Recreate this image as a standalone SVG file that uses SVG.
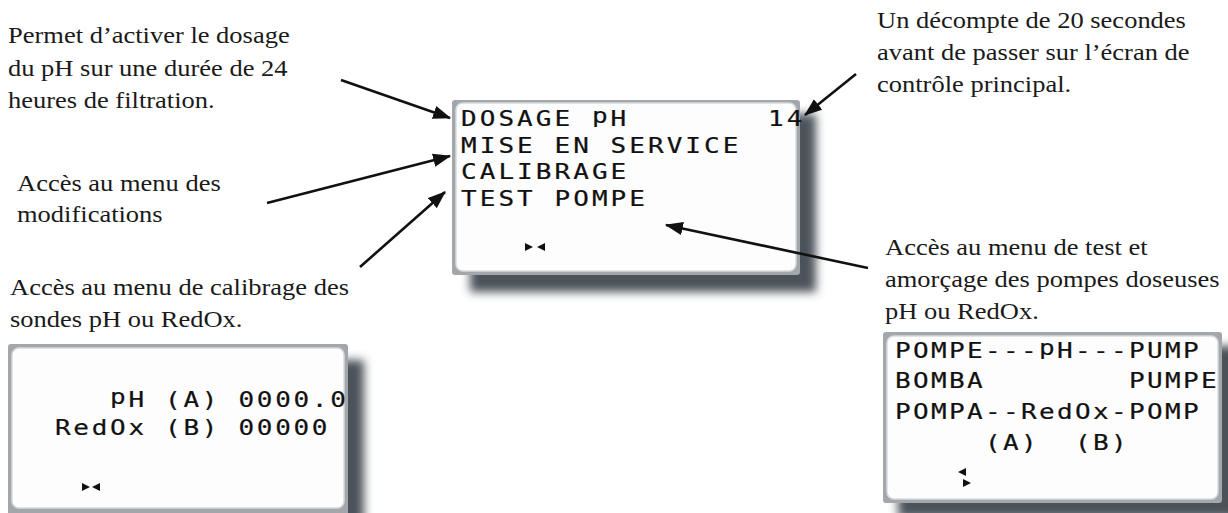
<svg xmlns="http://www.w3.org/2000/svg" width="1228" height="513" viewBox="0 0 1228 513">
<style>
.lbl{font-family:"Liberation Serif","Times New Roman",serif;font-size:26.5px;fill:#1a1a1a}
.lcd{font-family:"DejaVu Sans Mono",monospace;font-size:26px;fill:#111;stroke:#111;stroke-width:0.25;white-space:pre}
.frame{fill:#a3a7ab}
.screen{fill:#fdfdfd;stroke:#d8dadc;stroke-width:1.5}
.shadow{fill:#4b535a;filter:url(#blur)}
.conn line{stroke:#111;stroke-width:2.6;marker-end:url(#ah)}
.mk{fill:#111}
</style>
<defs>
<filter id="blur" x="-20%" y="-20%" width="140%" height="140%"><feGaussianBlur stdDeviation="5"/></filter>
<marker id="ah" viewBox="0 0 16 12" refX="15" refY="6" markerWidth="18" markerHeight="14" markerUnits="userSpaceOnUse" orient="auto"><path d="M0,0 L16,6 L0,12 Z" fill="#111"/></marker>
</defs>
<rect width="1228" height="513" fill="#fff"/>

<g id="main-screen">
<rect class="shadow" x="470" y="114" width="346" height="178"/>
<rect class="frame" x="452" y="100" width="348" height="175" rx="3"/>
<rect class="screen" x="456" y="103" width="340" height="168" rx="7"/>
<text class="lcd" xml:space="preserve" letter-spacing="3.05" transform="translate(461,126) scale(1,0.84)">DOSAGE <tspan dy="-4">p</tspan><tspan dy="4">H</tspan></text>
<text class="lcd" xml:space="preserve" letter-spacing="3.05" transform="translate(768,126) scale(1,0.84)">14</text>
<text class="lcd" xml:space="preserve" letter-spacing="3.05" transform="translate(461,152.5) scale(1,0.84)">MISE EN SERVICE</text>
<text class="lcd" xml:space="preserve" letter-spacing="3.05" transform="translate(461,179) scale(1,0.84)">CALIBRAGE</text>
<text class="lcd" xml:space="preserve" letter-spacing="3.05" transform="translate(461,205.5) scale(1,0.84)">TEST POMPE</text>
<polygon class="mk" points="525,243 533,247 525,251"/>
<polygon class="mk" points="545,243 537,247 545,251"/>
</g>

<g id="calib-screen">
<rect class="shadow" x="24" y="360" width="340" height="170"/>
<rect class="frame" x="8" y="344" width="340" height="175" rx="3"/>
<rect class="screen" x="12" y="348" width="332" height="160" rx="7"/>
<text class="lcd" xml:space="preserve" letter-spacing="2.7" transform="translate(55,407) scale(1,0.84)">   <tspan dy="-4">p</tspan><tspan dy="4">H (A) 0000.0</tspan></text>
<text class="lcd" xml:space="preserve" letter-spacing="2.7" transform="translate(55,435) scale(1,0.84)">RedOx (B) 00000</text>
<polygon class="mk" points="82,483 90,487 82,491"/>
<polygon class="mk" points="100,483 92,487 100,491"/>
</g>

<g id="pump-screen">
<rect class="shadow" x="898" y="346" width="340" height="172"/>
<rect class="frame" x="883" y="332" width="339" height="171" rx="3"/>
<rect class="screen" x="887" y="336" width="331" height="163" rx="7"/>
<text class="lcd" xml:space="preserve" letter-spacing="2.35" transform="translate(895,358) scale(1,0.84)">POMPE---<tspan dy="-4">p</tspan><tspan dy="4">H---PUMP</tspan></text>
<text class="lcd" xml:space="preserve" letter-spacing="2.35" transform="translate(895,388) scale(1,0.84)">BOMBA        PUMPE</text>
<text class="lcd" xml:space="preserve" letter-spacing="2.35" transform="translate(895,418.5) scale(1,0.84)">POMPA--RedOx-POMP</text>
<text class="lcd" xml:space="preserve" letter-spacing="2.35" transform="translate(895,450) scale(1,0.84)">     (A)  (B)</text>
<polygon class="mk" points="958,472 966,468 966,476"/>
<polygon class="mk" points="971,483 963,479 963,487"/>
</g>

<g id="label-dosage">
<text class="lbl" transform="translate(8,43) scale(1,0.86)"><tspan x="0">Permet d’activer le dosage</tspan><tspan x="0" dy="37.8">du pH sur une durée de 24</tspan><tspan x="0" dy="37.8">heures de filtration.</tspan></text>
</g>
<g id="label-modif">
<text class="lbl" transform="translate(17,190.5) scale(1,0.86)"><tspan x="0">Accès au menu des</tspan><tspan x="0" dy="37">modifications</tspan></text>
</g>
<g id="label-calib">
<text class="lbl" transform="translate(10,295) scale(1,0.86)"><tspan x="0">Accès au menu de calibrage des</tspan><tspan x="0" dy="37.5">sondes pH ou RedOx.</tspan></text>
</g>
<g id="label-countdown">
<text class="lbl" transform="translate(877,28) scale(1,0.86)"><tspan x="0">Un décompte de 20 secondes</tspan><tspan x="0" dy="37.5">avant de passer sur l’écran de</tspan><tspan x="0" dy="37.5">contrôle principal.</tspan></text>
</g>
<g id="label-test">
<text class="lbl" transform="translate(885,255) scale(1,0.86)"><tspan x="0">Accès au menu de test et</tspan><tspan x="0" dy="37.5">amorçage des pompes doseuses</tspan><tspan x="0" dy="37.5">pH ou RedOx.</tspan></text>
</g>

<g id="connectors" class="conn">
<line x1="341" y1="80" x2="450" y2="118"/>
<line x1="267" y1="203" x2="450" y2="156"/>
<line x1="360" y1="267" x2="445" y2="192"/>
<line x1="856" y1="74" x2="805" y2="115"/>
<line x1="868" y1="268" x2="666" y2="225"/>
</g>
</svg>
